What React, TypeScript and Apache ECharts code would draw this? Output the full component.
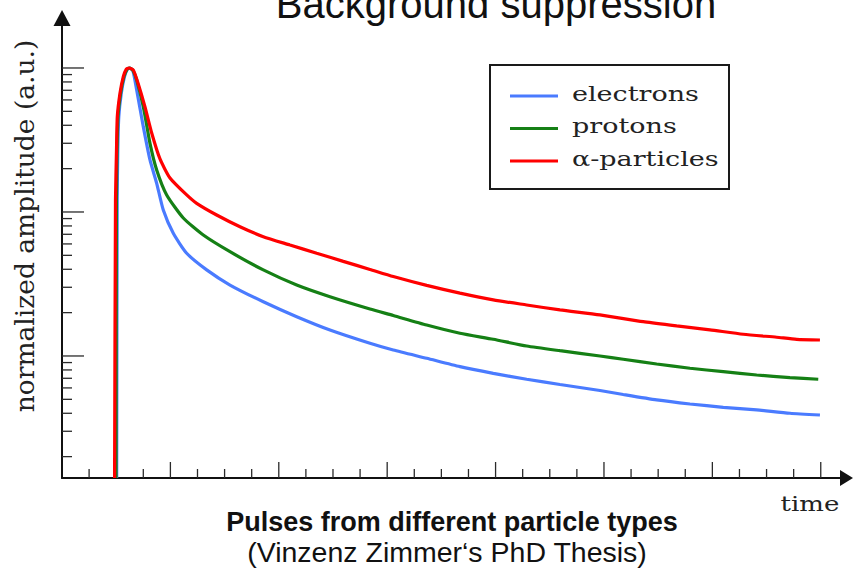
import React, { useEffect, useRef } from "react";
import * as echarts from "echarts";

// ---- data (time in tick units, normalized amplitude, log scale) ----
const electronsTime = [2.018, 2.037, 2.059, 2.096, 2.188, 2.306, 2.41, 2.509, 2.62, 2.756, 3.0, 3.247, 3.494, 3.738, 4.107, 4.601, 5.339, 6.199, 7.428, 8.661, 9.889, 11.365, 12.225, 13.458, 14.686, 15.915, 17.148, 18.376, 19.852, 20.712, 21.945, 23.173, 24.402, 25.635, 26.863, 27.97];
const electronsAmp = [0.001421, 0.1212, 0.2695, 0.4589, 0.6673, 0.8701, 0.976, 1.0, 0.953, 0.7035, 0.3913, 0.2297, 0.1582, 0.1032, 0.0711, 0.0517, 0.0396, 0.0311, 0.0238, 0.01875, 0.01516, 0.01226, 0.011, 0.00964, 0.00843, 0.00758, 0.00689, 0.00634, 0.00576, 0.0054, 0.00495, 0.00464, 0.0044, 0.00422, 0.004, 0.00389];

const protonsTime = [1.993, 2.007, 2.03, 2.066, 2.162, 2.284, 2.395, 2.494, 2.62, 2.756, 3.0, 3.247, 3.494, 3.863, 4.476, 5.214, 6.199, 7.428, 8.661, 9.889, 11.365, 12.225, 13.458, 14.686, 15.915, 17.148, 18.376, 19.852, 20.712, 21.945, 23.173, 24.402, 25.635, 26.863, 27.908];
const protonsAmp = [0.001421, 0.1212, 0.2695, 0.4589, 0.6673, 0.8701, 0.976, 1.0, 0.961, 0.8254, 0.5386, 0.2999, 0.1957, 0.1313, 0.0908, 0.0692, 0.053, 0.0396, 0.0311, 0.0258, 0.0212, 0.0191, 0.0164, 0.01437, 0.01306, 0.01173, 0.01088, 0.01, 0.00949, 0.0088, 0.00822, 0.00778, 0.00738, 0.00707, 0.00689];

const alphaTime = [1.94, 1.974, 2.011, 2.041, 2.14, 2.262, 2.362, 2.472, 2.631, 2.815, 3.063, 3.31, 3.616, 3.985, 4.601, 4.97, 5.708, 6.568, 7.428, 8.413, 9.399, 10.38, 11.365, 12.225, 13.458, 14.686, 15.915, 17.148, 18.376, 19.852, 21.45, 22.683, 23.911, 25.14, 26.373, 27.111, 27.97];
const alphaAmp = [0.001421, 0.1212, 0.2695, 0.4589, 0.6673, 0.8701, 0.976, 1.0, 0.969, 0.774, 0.536, 0.3537, 0.2334, 0.1722, 0.1313, 0.1149, 0.0953, 0.079, 0.0674, 0.059, 0.0517, 0.0454, 0.0399, 0.0356, 0.0309, 0.0273, 0.0245, 0.0226, 0.0209, 0.0193, 0.0173, 0.0162, 0.0152, 0.01415, 0.01349, 0.01306, 0.01291];

const seriesNames = ["electrons", "protons", "α-particles"];
const seriesColors = ["#4a7bff", "#158015", "#ff0000"];

// axis ticks (no labels in the reference)
const yMajorTicks = [0.01, 0.1, 1];
const yMinorTicks = [0.002, 0.003, 0.004, 0.005, 0.006, 0.007, 0.008, 0.009, 0.02, 0.03, 0.04, 0.05, 0.06, 0.07, 0.08, 0.09, 0.2, 0.3, 0.4, 0.5, 0.6, 0.7, 0.8, 0.9];
const xMajorTicks = [4, 8, 12, 16, 20, 24, 28];
const xMinorTicks = [1, 2, 3, 5, 6, 7, 9, 10, 11, 13, 14, 15, 17, 18, 19, 21, 22, 23, 25, 26, 27];

const X_MIN = 0;
const X_MAX = 28.95;
const Y_MIN = 0.001421;
const Y_MAX = 2.224;

const titleText = "Background suppression";
const yAxisName = "normalized amplitude (a.u.)";
const xAxisName = "time";
const captionBold = "Pulses from different particle types";
const captionRegular = "(Vinzenz Zimmer‘s PhD Thesis)";

const zip = (a: number[], b: number[]) => a.map((t, i) => [t, b[i]]);

export default function App() {
  const ref = useRef<HTMLDivElement>(null);
  useEffect(() => {
    if (!ref.current) return;
    const chart = echarts.init(ref.current, null, { renderer: "svg" });
    const serif = '"DejaVu Serif", serif';
    const sans = '"Liberation Sans", Arial, sans-serif';

    const tickStyle = { stroke: "#2a2a2a", lineWidth: 1.3 };

    const yTickData = [
      ...yMajorTicks.map((v) => [X_MIN, v, 1]),
      ...yMinorTicks.map((v) => [X_MIN, v, 0]),
    ];
    const xTickData = [
      ...xMajorTicks.map((v) => [v, Y_MIN, 1]),
      ...xMinorTicks.map((v) => [v, Y_MIN, 0]),
    ];

    const lineData = [
      zip(electronsTime, electronsAmp),
      zip(protonsTime, protonsAmp),
      zip(alphaTime, alphaAmp),
    ];

    const legendRows = [96, 128.5, 161];

    const option: any = {
      animation: false,
      backgroundColor: "#ffffff",
      grid: { left: 62, right: 7.5, top: 18, bottom: 90 },
      xAxis: {
        type: "value",
        min: X_MIN,
        max: X_MAX,
        axisLine: {
          show: true,
          onZero: false,
          symbol: ["none", "triangle"],
          symbolSize: [16, 13],
          lineStyle: { color: "#111", width: 2 },
        },
        axisTick: { show: false },
        axisLabel: { show: false },
        splitLine: { show: false },
      },
      yAxis: {
        type: "log",
        logBase: 10,
        min: Y_MIN,
        max: Y_MAX,
        axisLine: {
          show: true,
          onZero: false,
          symbol: ["none", "triangle"],
          symbolSize: [17, 16],
          lineStyle: { color: "#111", width: 2 },
        },
        axisTick: { show: false },
        axisLabel: { show: false },
        splitLine: { show: false },
      },
      series: [
        ...lineData.map((d, i) => ({
          type: "line",
          name: seriesNames[i],
          data: d,
          showSymbol: false,
          symbol: "none",
          smooth: 0.2,
          clip: true,
          z: 3 + i,
          lineStyle: { color: seriesColors[i], width: 3.2 },
        })),
        {
          type: "custom",
          coordinateSystem: "cartesian2d",
          clip: false,
          silent: true,
          z: 2,
          encode: { x: 0, y: 1 },
          data: yTickData,
          renderItem: (_p: any, api: any) => {
            const p = api.coord([api.value(0), api.value(1)]);
            const len = api.value(2) ? 22 : 10;
            return {
              type: "line",
              shape: { x1: p[0], y1: p[1], x2: p[0] + len, y2: p[1] },
              style: tickStyle,
            };
          },
        },
        {
          type: "custom",
          coordinateSystem: "cartesian2d",
          clip: false,
          silent: true,
          z: 2,
          encode: { x: 0, y: 1 },
          data: xTickData,
          renderItem: (_p: any, api: any) => {
            const p = api.coord([api.value(0), api.value(1)]);
            const len = api.value(2) ? 16 : 9;
            return {
              type: "line",
              shape: { x1: p[0], y1: p[1], x2: p[0], y2: p[1] - len },
              style: tickStyle,
            };
          },
        },
      ],
      graphic: [
        {
          type: "text",
          x: 496,
          y: 4,
          style: {
            text: titleText,
            font: `40px ${sans}`,
            fill: "#111",
            align: "center",
            verticalAlign: "middle",
          },
        },
        {
          type: "text",
          x: 24,
          y: 226,
          rotation: Math.PI / 2,
          style: {
            text: yAxisName,
            font: `26.5px ${serif}`,
            fill: "#222",
            align: "center",
            verticalAlign: "middle",
          },
        },
        {
          type: "text",
          x: 810,
          y: 504,
          scaleX: 1.3,
          style: {
            text: xAxisName,
            font: `20px ${serif}`,
            fill: "#222",
            align: "center",
            verticalAlign: "middle",
          },
        },
        {
          type: "rect",
          shape: { x: 490, y: 65, width: 239, height: 124 },
          style: { fill: "#fff", stroke: "#1a1a1a", lineWidth: 2 },
          z: 10,
        },
        ...seriesNames.map((n, i) => ({
          type: "line",
          shape: { x1: 510, y1: legendRows[i], x2: 558, y2: legendRows[i] },
          style: { stroke: seriesColors[i], lineWidth: 3 },
          z: 11,
        })),
        ...seriesNames.map((n, i) => ({
          type: "text",
          x: 572,
          y: legendRows[i] - 2,
          scaleX: 1.35,
          z: 11,
          style: {
            text: n,
            font: `20px ${serif}`,
            fill: "#222",
            align: "left",
            verticalAlign: "middle",
          },
        })),
        {
          type: "text",
          x: 452,
          y: 522,
          style: {
            text: captionBold,
            font: `bold 27px ${sans}`,
            fill: "#111",
            align: "center",
            verticalAlign: "middle",
          },
        },
        {
          type: "text",
          x: 447,
          y: 552,
          style: {
            text: captionRegular,
            font: `28.5px ${sans}`,
            fill: "#111",
            align: "center",
            verticalAlign: "middle",
          },
        },
      ],
    };
    chart.setOption(option);
    return () => chart.dispose();
  }, []);
  return (
    <div
      ref={ref}
      style={{ position: "fixed", left: 0, top: 0, width: 854, height: 568 }}
    />
  );
}
